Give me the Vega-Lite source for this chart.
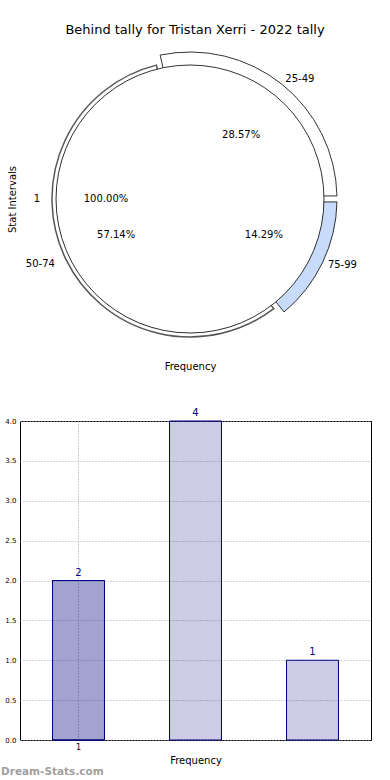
{
  "$schema": "https://vega.github.io/schema/vega-lite/v6.json",
  "padding": {"left": 0, "top": 24, "right": 0, "bottom": 0},
  "background": "white",
  "spacing": 36,
  "config": {
    "font": "DejaVu Sans",
    "view": {"stroke": null},
    "axis": {"labelFont": "DejaVu Sans", "titleFont": "DejaVu Sans", "titleFontWeight": "normal", "titleColor": "#000", "labelColor": "#000"}
  },
  "datasets": {
    "outer": [
      {"interval": "25-49", "count": 2, "share": 0.2857},
      {"interval": "50-74", "count": 4, "share": 0.5714},
      {"interval": "75-99", "count": 1, "share": 0.1429}
    ],
    "inner": [
      {"interval": "1", "count": 1, "share": 1.0}
    ],
    "bars": [
      {"interval": "25-49", "count": 2},
      {"interval": "50-74", "count": 4},
      {"interval": "75-99", "count": 1}
    ],
    "overlay": [
      {"interval": "25-49", "count": 2}
    ]
  },
  "vconcat": [
    {
      "width": 340,
      "height": 296,
      "title": {"text": "Behind tally for Tristan Xerri - 2022 tally", "fontSize": 13, "fontWeight": "normal", "anchor": "middle", "frame": "group", "offset": 13, "dx": 5, "color": "#000"},
      "encoding": {
        "x": {"datum": 0, "type": "quantitative", "scale": {"domain": [-1, 1]}, "axis": {"title": "Frequency", "labels": false, "ticks": false, "domain": false, "grid": false, "titleFontSize": 10, "titlePadding": 14}},
        "y": {"datum": 0, "type": "quantitative", "scale": {"domain": [-1, 1]}, "axis": {"title": "Stat Intervals", "labels": false, "ticks": false, "domain": false, "grid": false, "titleFontSize": 10, "titlePadding": 3}}
      },
      "layer": [
        {
          "data": {"name": "outer"},
          "mark": {"type": "arc", "radius": 147, "radius2": 133, "stroke": "#000", "strokeWidth": 0.8, "padAngle": 0.03},
          "encoding": {
            "theta": {"field": "count", "type": "quantitative", "stack": true, "scale": {"range": [2.468, 8.751]}},
            "order": {"field": "count", "sort": "descending"},
            "color": {"field": "interval", "type": "nominal", "scale": {"domain": ["25-49", "50-74", "75-99"], "range": ["#ffffff", "#ffffff", "#c8dbfb"]}, "legend": null},
            "opacity": {"condition": {"test": "datum.interval === '50-74'", "value": 0}, "value": 1}
          }
        },
        {
          "data": {"name": "outer"},
          "mark": {"type": "arc", "radius": 138, "radius2": 133, "stroke": "#555", "strokeWidth": 1.5, "padAngle": 0.03},
          "encoding": {
            "theta": {"field": "count", "type": "quantitative", "stack": true, "scale": {"range": [2.468, 8.751]}},
            "order": {"field": "count", "sort": "descending"},
            "color": {"field": "interval", "type": "nominal", "scale": {"domain": ["25-49", "50-74", "75-99"], "range": ["#ffffff", "#ffffff", "#c8dbfb"]}, "legend": null},
            "opacity": {"condition": {"test": "datum.interval === '50-74'", "value": 1}, "value": 0}
          }
        },
        {
          "data": {"name": "inner"},
          "mark": {"type": "arc", "radius": 134, "fill": "#ffffff", "stroke": "#000", "strokeWidth": 0.8},
          "encoding": {
            "theta": {"field": "count", "type": "quantitative", "stack": true, "scale": {"range": [1.5708, 7.854]}}
          }
        },
        {
          "data": {"name": "outer"},
          "mark": {"type": "text", "radius": 153, "align": "left", "baseline": "middle", "fontSize": 10, "color": "#000"},
          "encoding": {
            "theta": {"field": "count", "type": "quantitative", "stack": true, "scale": {"range": [2.468, 8.751]}},
            "order": {"field": "count", "sort": "descending"},
            "text": {"field": "interval"},
            "opacity": {"condition": {"test": "datum.interval === '50-74'", "value": 0}, "value": 1}
          }
        },
        {
          "data": {"name": "outer"},
          "mark": {"type": "text", "radius": 150, "align": "right", "baseline": "middle", "fontSize": 10, "color": "#000"},
          "encoding": {
            "theta": {"field": "count", "type": "quantitative", "stack": true, "scale": {"range": [2.468, 8.751]}},
            "order": {"field": "count", "sort": "descending"},
            "text": {"field": "interval"},
            "opacity": {"condition": {"test": "datum.interval === '50-74'", "value": 1}, "value": 0}
          }
        },
        {
          "data": {"name": "outer"},
          "mark": {"type": "text", "radius": 82, "align": "center", "baseline": "middle", "fontSize": 10, "color": "#000"},
          "encoding": {
            "theta": {"field": "count", "type": "quantitative", "stack": true, "scale": {"range": [2.468, 8.751]}},
            "order": {"field": "count", "sort": "descending"},
            "text": {"field": "share", "type": "quantitative", "format": ".2%"}
          }
        },
        {
          "data": {"name": "inner"},
          "mark": {"type": "text", "radius": 150, "align": "right", "baseline": "middle", "fontSize": 10, "color": "#000"},
          "encoding": {
            "theta": {"field": "count", "type": "quantitative", "stack": true, "scale": {"range": [1.5708, 7.854]}},
            "text": {"field": "interval"}
          }
        },
        {
          "data": {"name": "inner"},
          "mark": {"type": "text", "radius": 84, "align": "center", "baseline": "middle", "fontSize": 10, "color": "#000"},
          "encoding": {
            "theta": {"field": "count", "type": "quantitative", "stack": true, "scale": {"range": [1.5708, 7.854]}},
            "text": {"field": "share", "type": "quantitative", "format": ".2%"}
          }
        }
      ],
      "resolve": {"scale": {"theta": "independent", "color": "independent", "opacity": "independent"}}
    },
    {
      "width": 351,
      "height": 319,
      "view": {"stroke": "#000", "strokeWidth": 1},
      "title": {"text": "Dream-Stats.com", "orient": "bottom", "anchor": "start", "frame": "bounds", "color": "#a0a0a0", "fontSize": 10.5, "fontWeight": "bold", "offset": 2},
      "encoding": {
        "x": {"field": "interval", "type": "nominal", "sort": ["25-49", "50-74", "75-99"], "scale": {"domain": ["25-49", "50-74", "75-99"], "paddingInner": 0.556, "paddingOuter": 0.278},
          "axis": {"title": "Frequency", "titleFontSize": 10, "titlePadding": 4, "labelAngle": 0, "labelFontSize": 8, "labelPadding": 3, "ticks": false, "domain": false, "bandPosition": 0.5,
            "labelExpr": "datum.value === '25-49' ? '1' : ''",
            "grid": true, "gridDash": [1, 2], "gridColor": "#999",
            "gridOpacity": {"condition": {"test": "datum.value === '25-49'", "value": 1}, "value": 0}}},
        "y": {"field": "count", "type": "quantitative", "stack": null, "scale": {"domain": [0, 4], "nice": false},
          "axis": {"title": null, "values": [0, 0.5, 1, 1.5, 2, 2.5, 3, 3.5, 4], "format": ".1f", "labelFontSize": 7, "labelPadding": 4, "ticks": false, "domain": false, "minExtent": 19, "grid": true, "gridDash": [1, 2], "gridColor": "#aaa"}}
      },
      "layer": [
        {
          "data": {"name": "bars"},
          "mark": {"type": "bar", "fill": "#000080", "fillOpacity": 0.2, "stroke": "#000080", "strokeWidth": 1}
        },
        {
          "data": {"name": "overlay"},
          "mark": {"type": "bar", "fill": "#000080", "fillOpacity": 0.2, "stroke": "#000080", "strokeWidth": 1}
        },
        {
          "data": {"name": "bars"},
          "mark": {"type": "text", "baseline": "bottom", "dy": -3, "fontSize": 10, "color": "#000080"},
          "encoding": {"text": {"field": "count"}}
        }
      ]
    }
  ]
}
